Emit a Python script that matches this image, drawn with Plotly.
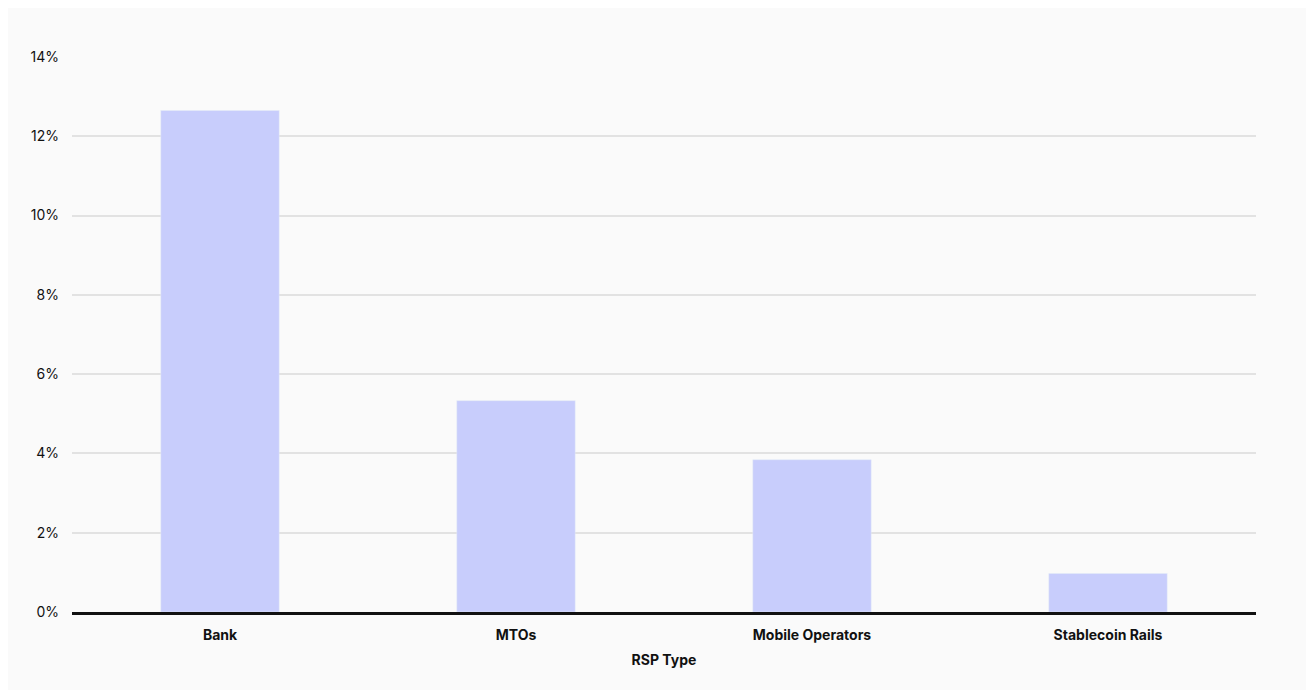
import plotly.graph_objects as go

# Data
categories = ["Bank", "MTOs", "Mobile Operators", "Stablecoin Rails"]
values = [12.65, 5.33, 3.84, 0.97]
tick_vals = [0, 2, 4, 6, 8, 10, 12, 14]
tick_text = ["0%", "2%", "4%", "6%", "8%", "10%", "12%", "14%"]

fig = go.Figure(go.Bar(
    x=categories,
    y=values,
    marker=dict(color="#c8cdfc"),
    hoverinfo="x+y",
))

fig.update_layout(
    width=1314, height=690,
    paper_bgcolor="#fafafa",
    plot_bgcolor="#fafafa",
    margin=dict(l=64, r=66, t=49, b=86),
    bargap=0.6,
    font=dict(family="Inter, Roboto, sans-serif", color="#111111"),
    showlegend=False,
    xaxis=dict(
        title=dict(text="<b>RSP Type</b>", font=dict(size=14), standoff=14),
        tickfont=dict(size=14, family="Inter, Roboto, sans-serif"),
        tickprefix="<b>", ticksuffix="</b>",
        ticks="outside", ticklen=8, tickcolor="rgba(0,0,0,0)",
        showline=True, linecolor="#111111", linewidth=3,
        showgrid=False,
    ),
    yaxis=dict(
        range=[0, 14],
        tickvals=tick_vals,
        ticktext=tick_text,
        tickfont=dict(size=14),
        gridcolor="#e2e2e2",
        gridwidth=1.5,
        zeroline=False,
        ticklabelstandoff=12,
    ),
)

fig.write_html("out.html")
